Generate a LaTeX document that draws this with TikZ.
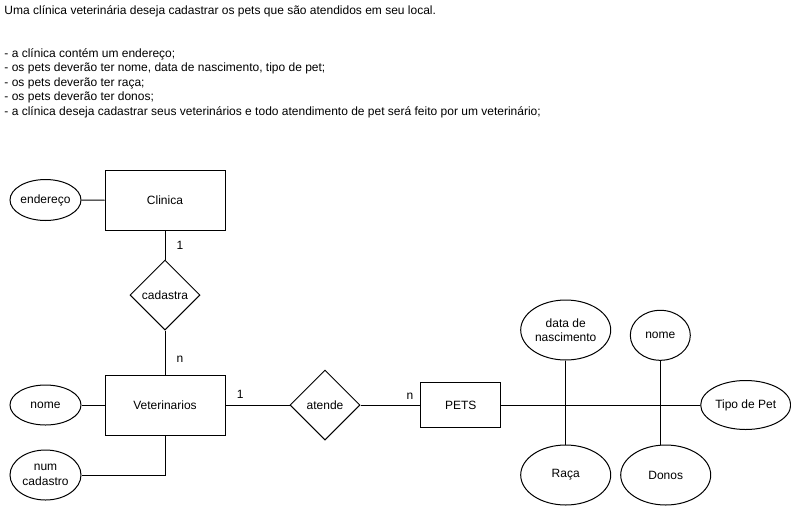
\documentclass[tikz,border=0pt]{standalone}
\usepackage{fontspec}
\setmainfont{Liberation Sans}
\usetikzlibrary{shapes.geometric}

\begin{document}
\begin{tikzpicture}[x=1pt, y=-1pt, line width=1pt,
  every node/.style={font=\fontsize{12pt}{14.4pt}\selectfont},
  entidade/.style={draw, rectangle, minimum width=120pt, minimum height=60pt, inner sep=0pt},
  atributo/.style={draw, ellipse, inner sep=0pt, align=center},
  relacao/.style={draw, diamond, aspect=1, minimum width=70pt, minimum height=70pt, inner sep=0pt},
  card/.style={inner sep=0pt}
]
  \useasboundingbox (0,0) rectangle (791,506);

  \node (texto) [anchor=north west, align=left, inner sep=0pt] at (4,5)
    {Uma clínica veterinária deseja cadastrar os pets que são atendidos em seu local.\\
     ~\\
     ~\\
     - a clínica contém um endereço;\\
     - os pets deverão ter nome, data de nascimento, tipo de pet;\\
     - os pets deverão ter raça;\\
     - os pets deverão ter donos;\\
     - a clínica deseja cadastrar seus veterinários e todo atendimento de pet será feito por um veterinário;};

  % entidades
  \node (clinica) [entidade] at (165,200.5) {Clinica};
  \node (vet) [entidade] at (165,405) {Veterinarios};
  \node (pets) [entidade, minimum width=80pt, minimum height=45pt] at (460.7,405) {PETS};

  % relacoes
  \node (cadastra) [relacao] at (165,295) {cadastra};
  \node (atende) [relacao] at (325,405) {atende};

  % atributos
  \node (endereco) [atributo, minimum width=71pt, minimum height=41pt] at (45.5,200) {endereço};
  \node (nomevet) [atributo, minimum width=71pt, minimum height=40pt] at (45.5,405) {nome};
  \node (numcad) [atributo, minimum width=71pt, minimum height=50pt] at (45.5,475) {num\\cadastro};
  \node (datanasc) [atributo, minimum width=90pt, minimum height=60pt] at (565.7,330) {data de\\nascimento};
  \node (nomepet) [atributo, minimum width=60pt, minimum height=50pt] at (660.3,335.3) {nome};
  \node (tipo) [atributo, minimum width=90pt, minimum height=49pt] at (745.7,405) {Tipo de Pet};
  \node (raca) [atributo, minimum width=90pt, minimum height=60pt] at (565.7,475) {Raça};
  \node (donos) [atributo, minimum width=90pt, minimum height=60pt] at (665.7,475) {Donos};

  \draw (endereco) -- (clinica);
  \draw (clinica) -- (cadastra)
    node [card, pos=0.5, right=11pt] {1};
  \draw (cadastra) -- (vet)
    node [card, pos=0.65, right=11pt] {n};
  \draw (nomevet) -- (vet);
  \draw (vet) |- (numcad);
  \draw (vet) -- (atende)
    node [card, pos=0.23, above=6pt] {1};
  \draw (atende) -- (pets)
    node [card, pos=0.83, above=5pt] {n};
  \draw (pets) -- (tipo);
  \draw (datanasc) -- (raca);
  \draw (nomepet) -- (nomepet |- donos.north);
\end{tikzpicture}
\end{document}
